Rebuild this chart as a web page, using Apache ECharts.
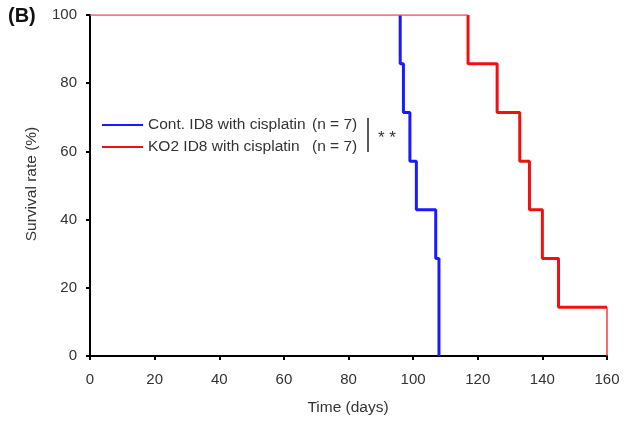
<!DOCTYPE html>
<html>
<head>
<meta charset="utf-8">
<script src="https://cdn.jsdelivr.net/npm/echarts@6/dist/echarts.min.js"></script>
<style>html,body{margin:0;padding:0;background:#fff}#c{width:631px;height:421px}</style>
</head>
<body>
<div id="c"></div>
<script>
const xTicks = [0, 20, 40, 60, 80, 100, 120, 140, 160];
const yTicks = [0, 20, 40, 60, 80, 100];
const contName = 'Cont. ID8 with cisplatin';
const koName = 'KO2 ID8 with cisplatin';
const contN = 7;
const koN = 7;
const contTimes = [96, 97, 99, 101, 107, 108];
const contSurv = [85.7, 71.4, 57.1, 42.9, 28.6, 0];
const koTimes = [117, 126, 133, 136, 140, 145, 160];
const koSurv = [85.7, 71.4, 57.1, 42.9, 28.6, 14.3, 0];

function steps(times, surv) {
  const pts = [[0, 100]];
  let prev = 100;
  for (let i = 0; i < times.length; i++) {
    pts.push([times[i], prev]);
    pts.push([times[i], surv[i]]);
    prev = surv[i];
  }
  return pts;
}
const contPts = steps(contTimes, contSurv);
const koPts = steps(koTimes, koSurv);
const contThick = contPts.slice(1);
const koThick = koPts.slice(1, koPts.length - 1);
const koThinTop = koPts.slice(0, 2);
const koThinEnd = koPts.slice(koPts.length - 2);

const chart = echarts.init(document.getElementById('c'), null, {renderer: 'canvas'});
const font = 'Liberation Sans, Arial, sans-serif';
chart.setOption({
  animation: false,
  backgroundColor: '#fff',
  grid: {left: 90, right: 24, top: 15, bottom: 65},
  xAxis: {
    type: 'value', min: 0, max: 160, interval: 20,
    axisLine: {lineStyle: {color: '#000', width: 2}},
    axisTick: {show: true, inside: false, length: 4, lineStyle: {color: '#000', width: 2}},
    axisLabel: {color: '#333', fontSize: 15, fontFamily: font, margin: 16},
    splitLine: {show: false}
  },
  yAxis: {
    type: 'value', min: 0, max: 100, interval: 20,
    axisLine: {show: true, lineStyle: {color: '#000', width: 2}},
    axisTick: {show: true, inside: false, length: 4, lineStyle: {color: '#000', width: 2}},
    axisLabel: {color: '#333', fontSize: 15, fontFamily: font, margin: 13},
    splitLine: {show: false}
  },
  legend: {
    show: true,
    data: [contName, koName],
    orient: 'vertical', left: 97, top: 112, itemWidth: 41, itemHeight: 2, itemGap: 6,
    icon: 'rect',
    selectedMode: false,
    formatter: function (n) {
      const k = n === contName ? contN : koN;
      return '{a|' + n + '}{b|(n = ' + k + ')}';
    },
    textStyle: {fontSize: 15.5, fontFamily: font, color: '#333',
      rich: {a: {width: 164, fontSize: 15.5, fontFamily: font, color: '#333'}, b: {fontSize: 15.5, fontFamily: font, color: '#333'}}}
  },
  graphic: [
    {type: 'text', left: 8, top: 6, style: {text: '(B)', font: 'bold 20px ' + font, fill: '#111'}},
    {type: 'text', x: 32, y: 184, rotation: Math.PI / 2, style: {text: 'Survival rate (%)', font: '15.5px ' + font, fill: '#333', textAlign: 'center', textVerticalAlign: 'middle'}},
    {type: 'text', x: 348, y: 408, style: {text: 'Time (days)', font: '15.5px ' + font, fill: '#333', textAlign: 'center', textVerticalAlign: 'middle'}},
    {type: 'line', shape: {x1: 368, y1: 118, x2: 368, y2: 152}, style: {stroke: '#222', lineWidth: 1.5}},
    {type: 'text', x: 387, y: 138, style: {text: '* *', font: '17px ' + font, fill: '#333', textAlign: 'center', textVerticalAlign: 'middle'}}
  ],
  series: [
    {name: contName, type: 'line', data: contThick, symbol: 'none', lineStyle: {color: '#1a1aff', width: 3}, itemStyle: {color: '#1a1aff'}, z: 3},
    {name: koName, type: 'line', data: koThick, symbol: 'none', lineStyle: {color: '#f01010', width: 3}, itemStyle: {color: '#f01010'}, z: 3},
    {name: 'ko-top', type: 'line', data: koThinTop, symbol: 'none', lineStyle: {color: '#e8506a', width: 1.3}, z: 4},
    {name: 'ko-end', type: 'line', data: koThinEnd, symbol: 'none', lineStyle: {color: '#f02020', width: 1.3}, z: 4}
  ]
});
</script>
</body>
</html>
